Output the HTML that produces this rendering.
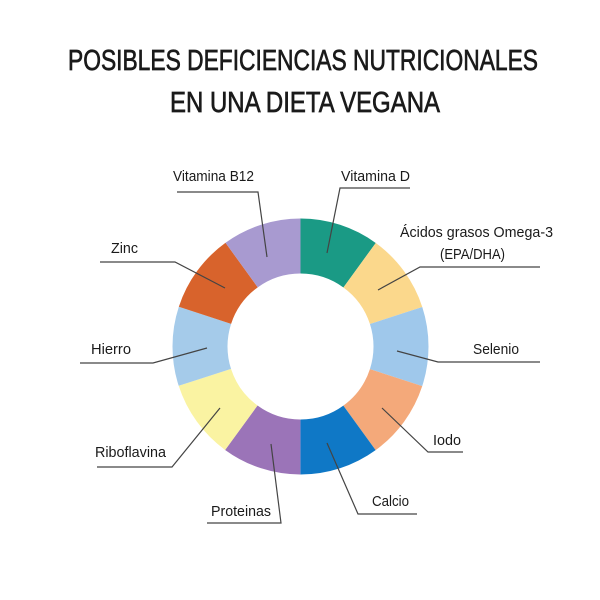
<!DOCTYPE html>
<html><head><meta charset="utf-8"><style>
html,body{margin:0;padding:0;background:#fff;}
svg{display:block;}
text{font-family:"Liberation Sans Narrow","Liberation Sans",sans-serif;fill:#1a1a1a;}
</style></head><body>
<svg width="600" height="600" viewBox="0 0 600 600" xmlns="http://www.w3.org/2000/svg">
<rect width="600" height="600" fill="#fff"/>
<text x="68" y="70" font-size="29" stroke="#1a1a1a" stroke-width="0.7" textLength="470" lengthAdjust="spacingAndGlyphs">POSIBLES DEFICIENCIAS NUTRICIONALES</text>
<text x="170" y="112" font-size="29" stroke="#1a1a1a" stroke-width="0.7" textLength="270" lengthAdjust="spacingAndGlyphs">EN UNA  DIETA VEGANA</text>
<g transform="rotate(-90 300.5 346.5)" fill="none" stroke-width="55">
<circle cx="300.5" cy="346.5" r="100.5" stroke="#1a9a85" stroke-dasharray="63.146 568.32" stroke-dashoffset="0"/>
<circle cx="300.5" cy="346.5" r="100.5" stroke="#fbd88c" stroke-dasharray="63.146 568.32" stroke-dashoffset="-63.146"/>
<circle cx="300.5" cy="346.5" r="100.5" stroke="#9fc8eb" stroke-dasharray="63.146 568.32" stroke-dashoffset="-126.292"/>
<circle cx="300.5" cy="346.5" r="100.5" stroke="#f4a97a" stroke-dasharray="63.146 568.32" stroke-dashoffset="-189.438"/>
<circle cx="300.5" cy="346.5" r="100.5" stroke="#0f78c6" stroke-dasharray="63.146 568.32" stroke-dashoffset="-252.584"/>
<circle cx="300.5" cy="346.5" r="100.5" stroke="#9b74b8" stroke-dasharray="63.146 568.32" stroke-dashoffset="-315.73"/>
<circle cx="300.5" cy="346.5" r="100.5" stroke="#faf3a2" stroke-dasharray="63.146 568.32" stroke-dashoffset="-378.876"/>
<circle cx="300.5" cy="346.5" r="100.5" stroke="#a5cbea" stroke-dasharray="63.146 568.32" stroke-dashoffset="-442.022"/>
<circle cx="300.5" cy="346.5" r="100.5" stroke="#d8632c" stroke-dasharray="63.146 568.32" stroke-dashoffset="-505.168"/>
<circle cx="300.5" cy="346.5" r="100.5" stroke="#a89ad0" stroke-dasharray="63.146 568.32" stroke-dashoffset="-568.314"/>
</g>
<g fill="none" stroke="#444" stroke-width="1.2">
<polyline points="177,192 258,192 267,257"/>
<polyline points="327,253 340,188 410,188"/>
<polyline points="378,290 420,267 540,267"/>
<polyline points="397,351 438,362 540,362"/>
<polyline points="382,408 428,452 463,452"/>
<polyline points="327,443 358,514 417,514"/>
<polyline points="207,523 281,523 271,444"/>
<polyline points="97,467 172,467 220,408"/>
<polyline points="80,363 153,363 207,348"/>
<polyline points="100,262 175,262 225,288"/>
</g>
<g font-size="15">
<text x="173" y="181" textLength="81" lengthAdjust="spacingAndGlyphs">Vitamina B12</text>
<text x="341" y="181" textLength="69" lengthAdjust="spacingAndGlyphs">Vitamina D</text>
<text x="400" y="237" textLength="153" lengthAdjust="spacingAndGlyphs">Ácidos grasos Omega-3</text>
<text x="440" y="259" textLength="65" lengthAdjust="spacingAndGlyphs">(EPA/DHA)</text>
<text x="473" y="354" textLength="46" lengthAdjust="spacingAndGlyphs">Selenio</text>
<text x="433" y="445" textLength="28" lengthAdjust="spacingAndGlyphs">Iodo</text>
<text x="372" y="506" textLength="37" lengthAdjust="spacingAndGlyphs">Calcio</text>
<text x="211" y="516" textLength="60" lengthAdjust="spacingAndGlyphs">Proteinas</text>
<text x="95" y="457" textLength="71" lengthAdjust="spacingAndGlyphs">Riboflavina</text>
<text x="91" y="354" textLength="40" lengthAdjust="spacingAndGlyphs">Hierro</text>
<text x="111" y="253" textLength="27" lengthAdjust="spacingAndGlyphs">Zinc</text>
</g>
</svg>
</body></html>
